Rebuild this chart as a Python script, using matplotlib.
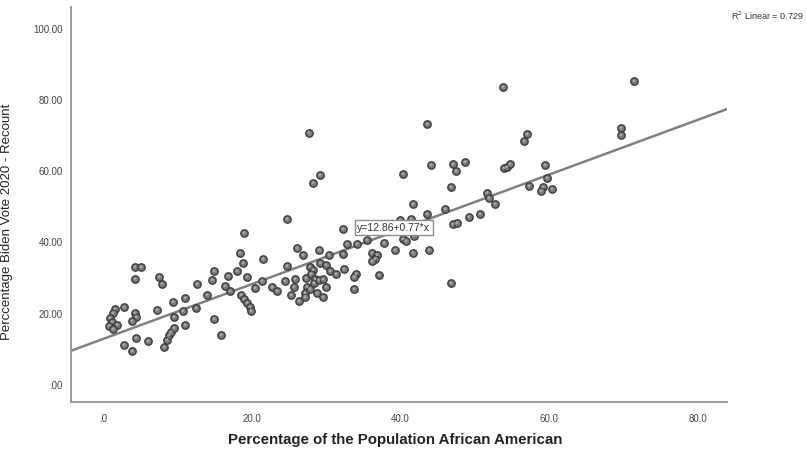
import numpy as np
import matplotlib
matplotlib.use("Agg")
import matplotlib.pyplot as plt
from matplotlib.ticker import FixedLocator, FixedFormatter

plt.rcParams["font.family"] = ["Liberation Sans", "DejaVu Sans"]

# % African American population per county
pct_black = [
    1.61, 1.34, 0.94, 1.21, 0.81, 1.88, 1.34, 2.82, 4.30, 4.44, 3.90,
    2.82, 3.90, 4.44, 6.05, 8.20, 8.60, 8.87, 9.14, 9.54, 11.02, 15.86,
    4.30, 5.11, 4.30, 7.53, 7.93, 12.63, 14.92, 14.65, 16.80, 16.40,
    13.98, 11.02, 9.41, 7.26, 12.50, 10.75, 9.54, 14.92, 17.07,
    18.95, 18.41, 18.82, 18.01, 19.35, 18.55, 18.95, 19.35, 19.76, 19.89,
    21.51, 21.37, 20.43, 24.73, 28.23, 29.17, 27.69,
    26.08, 26.88, 29.03, 30.38, 32.26, 32.80, 34.14, 35.48, 36.16,
    24.73, 24.46, 22.72, 23.39, 25.81, 25.67, 25.27, 26.34,
    27.28, 27.42, 27.15, 27.15, 27.82, 28.23, 27.96, 28.49, 28.36, 27.82,
    29.17, 29.97, 29.03, 29.57, 29.97, 28.76, 29.57, 30.51, 31.32, 32.39,
    34.01, 33.74, 33.74, 32.26, 36.83, 36.56, 36.16, 37.10, 37.77, 39.25,
    41.67, 43.82, 40.32, 40.73, 41.80, 39.92, 41.40,
    40.32, 44.09, 47.04, 47.45, 48.66, 46.77, 41.67, 43.55, 45.97, 47.04,
    47.58, 49.19, 50.67, 51.61, 51.88, 52.69, 43.55, 46.77,
    53.76, 53.90, 54.30, 54.70, 56.99, 56.59, 59.41, 59.68, 57.26, 59.14,
    58.87, 60.35, 69.62, 69.62, 71.37,
]

# Biden share of the 2020 recount vote
biden_pct = [
    21.35, 20.22, 18.82, 17.70, 16.57, 16.85, 15.73, 21.91, 20.22, 19.10, 17.98,
    11.24, 9.55, 13.20, 12.36, 10.67, 12.64, 14.04, 14.89, 16.01, 16.85, 14.04,
    33.15, 33.15, 29.78, 30.34, 28.37, 28.37, 32.02, 29.49, 30.62, 27.81,
    25.28, 24.44, 23.31, 21.07, 21.63, 20.79, 19.10, 18.54, 26.40,
    42.70, 37.08, 34.27, 32.02, 30.34, 25.28, 24.16, 23.03, 21.91, 20.79,
    35.39, 29.21, 27.25, 46.63, 56.74, 58.99, 70.79,
    38.48, 36.52, 37.92, 36.52, 36.80, 39.61, 39.61, 40.73, 37.08,
    33.43, 29.21, 27.53, 26.40, 29.78, 27.53, 25.28, 23.60,
    30.06, 27.53, 25.84, 24.72, 33.15, 32.30, 31.18, 29.78, 28.65, 26.97,
    34.27, 33.71, 29.49, 29.78, 27.53, 25.84, 24.72, 32.02, 31.18, 32.58,
    31.18, 30.34, 26.97, 43.82, 36.52, 35.39, 34.83, 30.90, 39.89, 37.92,
    37.08, 37.92, 41.01, 40.45, 41.85, 46.35, 46.63,
    59.27, 61.80, 62.08, 60.11, 62.64, 55.62, 50.84, 48.03, 49.44, 45.22,
    45.51, 47.19, 48.03, 53.93, 52.53, 50.84, 73.31, 28.65,
    83.71, 60.96, 61.24, 62.08, 70.51, 68.54, 61.80, 58.15, 55.90, 55.62,
    54.49, 55.06, 72.19, 70.22, 85.39,
]

intercept, slope = 12.86, 0.77
r_squared = 0.729

x_ticks = [0, 20, 40, 60, 80]
x_tick_labels = [".0", "20.0", "40.0", "60.0", "80.0"]
y_ticks = [0, 20, 40, 60, 80, 100]
y_tick_labels = [".00", "20.00", "40.00", "60.00", "80.00", "100.00"]

fig = plt.figure(figsize=(8.07, 4.51), dpi=100)
ax = fig.add_axes([0.088, 0.109, 0.813, 0.876])

xmin, xmax = -4.3, 83.9
ymin, ymax = -4.8, 106.2
ax.set_xlim(xmin, xmax)
ax.set_ylim(ymin, ymax)

# fit line across the full x range
xs = np.array([xmin, xmax])
ax.plot(xs, intercept + slope * xs, color="#808080", linewidth=1.8, zorder=2)

ax.scatter(pct_black, biden_pct, s=28, facecolor="#7a7a7a", edgecolor="#3c3c3c",
           linewidths=1.0, zorder=3)
ax.scatter(pct_black, biden_pct, s=4, facecolor="#a8a8a8", edgecolor="none", zorder=4)

ax.text(39.1, 44.1, "y=12.86+0.77*x", fontsize=7.5, color="#333333",
        ha="center", va="center", zorder=5,
        bbox=dict(boxstyle="square,pad=0.25", facecolor="white",
                  edgecolor="#8c8c8c", linewidth=1.0))

for side in ("top", "right"):
    ax.spines[side].set_visible(False)
for side in ("left", "bottom"):
    ax.spines[side].set_color("#9a9a9a")
    ax.spines[side].set_linewidth(1.4)

ax.xaxis.set_major_locator(FixedLocator(x_ticks))
ax.xaxis.set_major_formatter(FixedFormatter(x_tick_labels))
ax.yaxis.set_major_locator(FixedLocator(y_ticks))
ax.yaxis.set_major_formatter(FixedFormatter(y_tick_labels))
ax.tick_params(axis="both", length=0, labelsize=7, labelcolor="#444444")
ax.tick_params(axis="x", pad=9)
ax.tick_params(axis="y", pad=6)

ax.set_xlabel("Percentage of the Population African American", fontsize=10.8,
              fontweight="bold", color="#222222")
ax.xaxis.set_label_coords(0.494, -0.08)
ax.set_ylabel("Perccentage Biden Vote 2020 - Recount", fontsize=9.5, color="#222222")
ax.yaxis.set_label_coords(-0.088, 0.456)

fig.text(0.996, 0.965, "R$^2$ Linear = 0.729", fontsize=6.5, color="#333333",
         ha="right", va="center")

fig.savefig("out.png", dpi=100, facecolor="white")
